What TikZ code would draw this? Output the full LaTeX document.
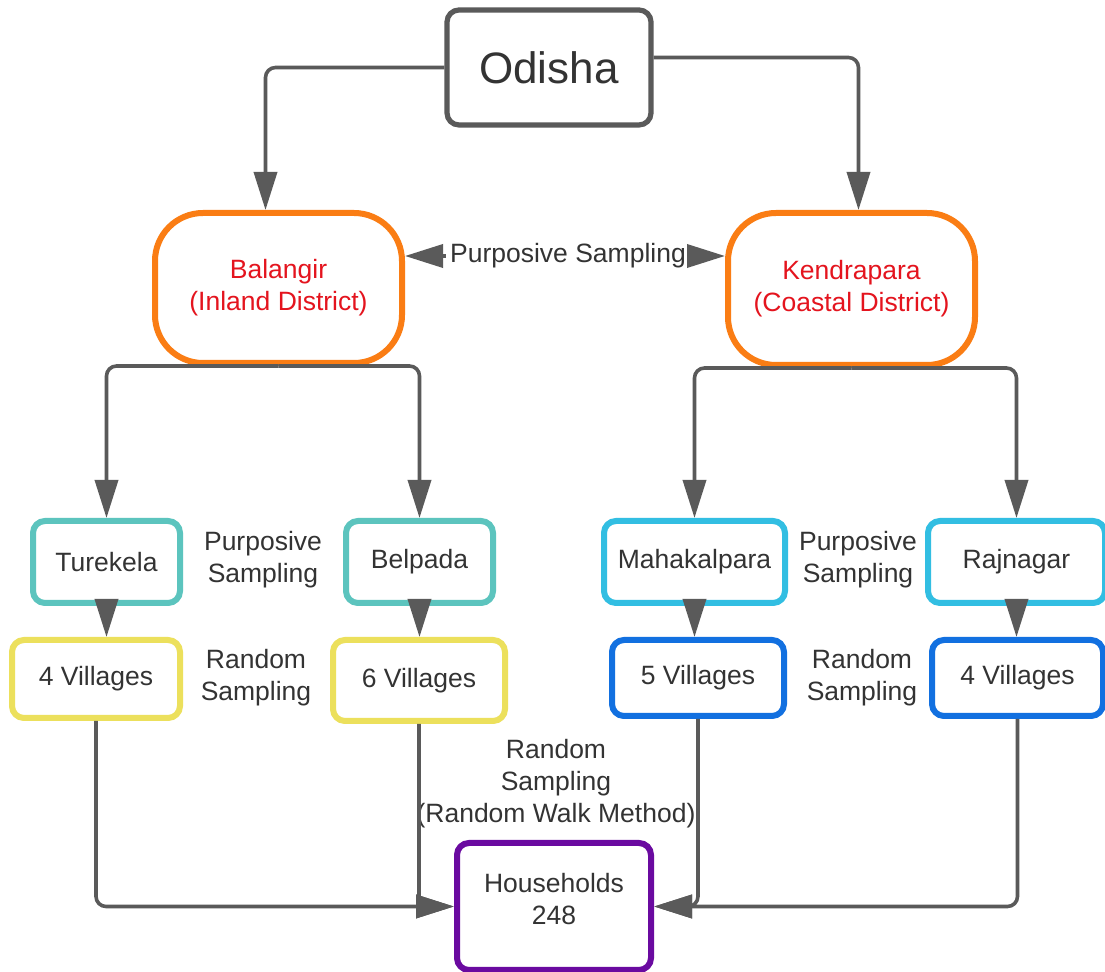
\documentclass[tikz,border=0pt]{standalone}
\usepackage{fontspec}
\setmainfont{Liberation Sans}
\usetikzlibrary{arrows.meta}

\definecolor{txtgray}{RGB}{51,51,51}
\definecolor{linegray}{RGB}{90,90,90}
\definecolor{distorange}{RGB}{250,125,20}
\definecolor{distred}{RGB}{228,20,30}
\definecolor{blockteal}{RGB}{92,196,190}
\definecolor{blocksky}{RGB}{50,190,226}
\definecolor{vilyellow}{RGB}{236,224,92}
\definecolor{vilblue}{RGB}{18,112,224}
\definecolor{hhpurple}{RGB}{106,10,160}

\begin{document}
\begin{tikzpicture}[x=0.5pt,y=-0.5pt,>={Triangle[length=19pt,width=11.5pt]}]
% — styles ––––––––––––––––––––––––––
\tikzstyle{box}    =[draw,rounded corners=6pt,line width=3pt,align=center,text=txtgray,
                     font=\fontsize{13.25}{16}\selectfont]
\tikzstyle{district}=[box,draw=distorange,text=distred,rounded corners=24pt]
\tikzstyle{label}  =[align=center,text=txtgray,inner sep=2pt,font=\fontsize{13.25}{16}\selectfont]
\tikzstyle{link}   =[draw=linegray,line width=1.8pt,rounded corners=5pt,->]

\useasboundingbox[fill=white] (0,0) rectangle (1105,972);

% --- state and districts --------------------------------------
\node[box,draw=linegray,line width=2.6pt,minimum width=102pt,minimum height=57.5pt,
      font=\fontsize{22}{26}\selectfont] (odisha) at (549,67.5) {Odisha};
\node[district,minimum width=123.5pt,minimum height=75pt] (bal) at (278.5,288)
      {Balangir\\(Inland District)};
\node[district,minimum width=123.5pt,minimum height=76pt] (ken) at (851.5,289)
      {Kendrapara\\(Coastal District)};
\node[label] (ps) at (568,256) {Purposive Sampling};

% --- blocks ---------------------------------------------------
\node[box,draw=blockteal,minimum width=73.5pt,minimum height=41pt] (ture) at (106.5,562) {Turekela};
\node[box,draw=blockteal,minimum width=73.5pt,minimum height=41pt] (belp) at (419.5,562) {Belpada};
\node[box,draw=blocksky,minimum width=90.5pt,minimum height=41pt] (maha) at (694.5,562) {Mahakalpara};
\node[box,draw=blocksky,minimum width=88.5pt,minimum height=41pt] (rajn) at (1016.5,562) {Rajnagar};

% --- villages -------------------------------------------------
\node[box,draw=vilyellow,minimum width=84pt,minimum height=39pt] (vtur) at (96,679) {4 Villages};
\node[box,draw=vilyellow,minimum width=86pt,minimum height=40.5pt] (vbel) at (419,680.5) {6 Villages};
\node[box,draw=vilblue,minimum width=86pt,minimum height=38pt] (vmah) at (698,678) {5 Villages};
\node[box,draw=vilblue,minimum width=85.5pt,minimum height=38pt] (vraj) at (1017.5,678) {4 Villages};

% --- households -----------------------------------------------
\node[box,draw=hhpurple,minimum width=97pt,minimum height=63.5pt] (hh) at (554,906.5)
      {Households\\248\\[-8pt]\mbox{}};

% --- sampling labels ------------------------------------------
\node[label] (psl) at (263,560) {Purposive\\Sampling};
\node[label] (rsl) at (256,678) {Random\\Sampling};
\node[label] (psr) at (858,560) {Purposive\\Sampling};
\node[label] (rsr) at (862,678) {Random\\Sampling};
\node[label] (rw)  at (556,784) {Random\\Sampling\\(Random Walk Method)};

% --- connectors -----------------------------------------------
\draw[link] (odisha.west) -| ([xshift=-6.5pt]bal.north);
\draw[link] ([yshift=5pt]odisha.east) -| ([xshift=3.5pt]ken.north);
\draw[link] (ps.west) -- (ps.west -| bal.east);
\draw[link] (ps.east) -- (ps.east -| ken.west);

\draw[link] (bal.south) -| (ture.north);
\draw[link] (bal.south) -| (belp.north);
\draw[link] (ken.south) -| (maha.north);
\draw[link] (ken.south) -| (rajn.north);

\draw[link] (ture.south) -- (ture.south |- vtur.north);
\draw[link] (belp.south) -- (belp.south |- vbel.north);
\draw[link] (maha.south) -- (maha.south |- vmah.north);
\draw[link] (rajn.south) -- (rajn.south |- vraj.north);

\draw[link] (vtur.south) |- (hh.west);
\draw[link] (vbel.south) |- (hh.west);
\draw[link] (vmah.south) |- (hh.east);
\draw[link] (vraj.south) |- (hh.east);

\end{tikzpicture}
\end{document}
